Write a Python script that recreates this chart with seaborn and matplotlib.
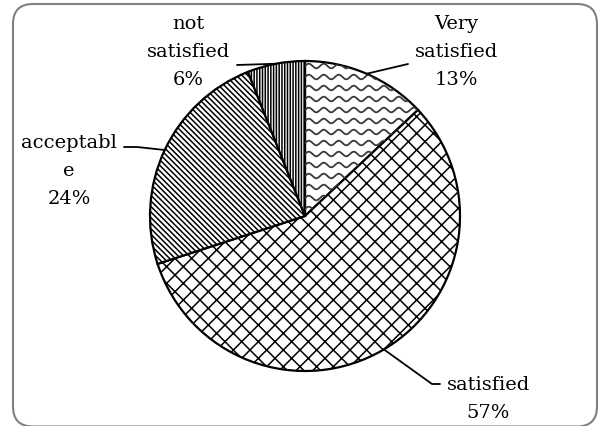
import numpy as np
import seaborn as sns
import matplotlib.pyplot as plt
from matplotlib.patches import FancyBboxPatch

# satisfaction survey shares (%)
labels = ["Very\nsatisfied", "satisfied", "acceptabl\ne", "not\nsatisfied"]
shares = [13, 57, 24, 6]
hatches = ["", "xx", "\\\\\\\\\\\\", "||||||"]

W, H = 599, 427

sns.set_style("white")
plt.rcParams["font.family"] = ["DejaVu Serif"]
plt.rcParams["hatch.color"] = "black"
plt.rcParams["hatch.linewidth"] = 1.1


def py(y):
    # pixel row (from top) -> data y
    return H - y


fig = plt.figure(figsize=(W / 100, H / 100), dpi=100)
ax = fig.add_axes([0, 0, 1, 1])

cx, cy, r = 305, py(217), 155
wedges, _ = ax.pie(
    shares, startangle=90, counterclock=False, center=(cx, cy), radius=r,
    hatch=hatches,
    wedgeprops=dict(facecolor="white", edgecolor="black", linewidth=1.6),
)

# wavy fill for the first slice (no built-in wave hatch)
xs = np.linspace(cx - 5, cx + r + 5, 600)
for y0 in np.arange(cy - 4, cy + r + 10, 11):
    ln, = ax.plot(xs, y0 + 2.3 * np.sin(2 * np.pi * (xs - cx) / 15),
                  color="#3a3a3a", lw=1.3)
    ln.set_clip_path(wedges[0])

# label layout: text centre (px) and leader path from text side
text_pos = [(456, 52), (488, 399), (69, 171), (188, 52)]
leader = [
    [(408, 65)],
    [(440, 385), (432, 385)],
    [(124, 148), (137, 148)],
    [(237, 66)],
]

for w, lab, pct, (tx, ty), pts in zip(wedges, labels, shares, text_pos, leader):
    mid = np.deg2rad((w.theta1 + w.theta2) / 2)
    ax_, ay_ = cx + r * np.cos(mid), cy + r * np.sin(mid)
    path = [(x, py(y)) for x, y in pts] + [(ax_, ay_)]
    ax.plot([p[0] for p in path], [p[1] for p in path], color="black", lw=1.3)
    ax.text(tx, py(ty), f"{lab}\n{pct}%", ha="center", va="center",
            fontsize=14, linespacing=1.72, color="black")

border = FancyBboxPatch((13, py(427.5)), 584, 422.5,
                        boxstyle="round,pad=0,rounding_size=20",
                        ec="#808080", fc="none", lw=1.5)
ax.add_patch(border)

ax.set_xlim(0, W)
ax.set_ylim(0, H)
ax.set_aspect("equal")
ax.axis("off")

fig.savefig("out.png", dpi=100)
